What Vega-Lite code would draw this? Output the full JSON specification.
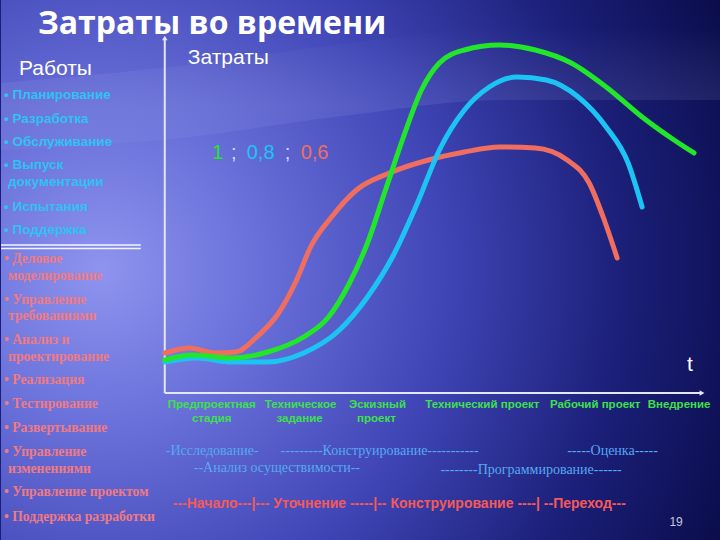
{
  "$schema": "https://vega.github.io/schema/vega-lite/v6.json",
  "width": 720,
  "height": 540,
  "padding": 0,
  "autosize": {"type": "fit", "contains": "padding"},
  "background": "#1a1e78",
  "view": {
    "stroke": null,
    "fill": {
      "gradient": "radial",
      "x1": 0.14, "y1": 0.5, "r1": 0,
      "x2": 0.14, "y2": 0.5, "r2": 0.97,
      "stops": [
        {"offset": 0, "color": "#8e94ee"},
        {"offset": 0.22, "color": "#6a71da"},
        {"offset": 0.5, "color": "#3e44b4"},
        {"offset": 0.75, "color": "#1b1f78"},
        {"offset": 1, "color": "#080a44"}
      ]
    }
  },
  "config": {"view": {"stroke": null}},
  "datasets": {
    "curves": [
      {"series": "0,6", "t": 0, "c": 40}, {"series": "0,6", "t": 25, "c": 45}, {"series": "0,6", "t": 50, "c": 40}, {"series": "0,6", "t": 71, "c": 41}, {"series": "0,6", "t": 92, "c": 56}, {"series": "0,6", "t": 114, "c": 80}, {"series": "0,6", "t": 132, "c": 113}, {"series": "0,6", "t": 146, "c": 146}, {"series": "0,6", "t": 167, "c": 176}, {"series": "0,6", "t": 192, "c": 203}, {"series": "0,6", "t": 225, "c": 220}, {"series": "0,6", "t": 264, "c": 233}, {"series": "0,6", "t": 300, "c": 241}, {"series": "0,6", "t": 335, "c": 246}, {"series": "0,6", "t": 371, "c": 245}, {"series": "0,6", "t": 403, "c": 233}, {"series": "0,6", "t": 425, "c": 210}, {"series": "0,6", "t": 439, "c": 176}, {"series": "0,6", "t": 453, "c": 135},
      {"series": "0,8", "t": 0, "c": 31}, {"series": "0,8", "t": 32, "c": 35}, {"series": "0,8", "t": 67, "c": 31}, {"series": "0,8", "t": 103, "c": 31}, {"series": "0,8", "t": 139, "c": 40}, {"series": "0,8", "t": 175, "c": 63}, {"series": "0,8", "t": 203, "c": 96}, {"series": "0,8", "t": 228, "c": 136}, {"series": "0,8", "t": 253, "c": 190}, {"series": "0,8", "t": 275, "c": 243}, {"series": "0,8", "t": 300, "c": 283}, {"series": "0,8", "t": 325, "c": 306}, {"series": "0,8", "t": 353, "c": 316}, {"series": "0,8", "t": 382, "c": 313}, {"series": "0,8", "t": 414, "c": 296}, {"series": "0,8", "t": 442, "c": 266}, {"series": "0,8", "t": 464, "c": 230}, {"series": "0,8", "t": 478, "c": 186},
      {"series": "1", "t": 0, "c": 33}, {"series": "1", "t": 28, "c": 38}, {"series": "1", "t": 67, "c": 35}, {"series": "1", "t": 103, "c": 41}, {"series": "1", "t": 139, "c": 56}, {"series": "1", "t": 164, "c": 76}, {"series": "1", "t": 185, "c": 110}, {"series": "1", "t": 203, "c": 150}, {"series": "1", "t": 221, "c": 203}, {"series": "1", "t": 239, "c": 256}, {"series": "1", "t": 257, "c": 303}, {"series": "1", "t": 275, "c": 330}, {"series": "1", "t": 300, "c": 343}, {"series": "1", "t": 335, "c": 348}, {"series": "1", "t": 371, "c": 343}, {"series": "1", "t": 407, "c": 330}, {"series": "1", "t": 442, "c": 306}, {"series": "1", "t": 478, "c": 276}, {"series": "1", "t": 510, "c": 253}, {"series": "1", "t": 530, "c": 240}
    ]
  },
  "encoding": {
    "x": {"field": "t", "type": "quantitative", "scale": {"domain": [-164, 556], "nice": false, "zero": false}, "axis": null},
    "y": {"field": "c", "type": "quantitative", "scale": {"domain": [-147, 393], "nice": false, "zero": false}, "axis": null}
  },
  "layer": [
    {
      "data": {"values": [
        {"t": -164, "c": 243, "c2": 310},
        {"t": -4, "c": 253, "c2": 325},
        {"t": 186, "c": 278, "c2": 350},
        {"t": 336, "c": 293, "c2": 365},
        {"t": 556, "c": 293, "c2": 362}
      ]},
      "mark": {
        "type": "area",
        "interpolate": "monotone",
        "fill": {
          "gradient": "linear", "x1": 0, "y1": 0, "x2": 0, "y2": 1,
          "stops": [
            {"offset": 0, "color": "rgba(255,255,255,0)"},
            {"offset": 0.65, "color": "rgba(200,205,255,0.10)"},
            {"offset": 1, "color": "rgba(200,205,255,0.05)"}
          ]
        }
      },
      "encoding": {"y2": {"field": "c2"}}
    },
    {
      "data": {"values": [{"t": 0, "c": 0, "t2": 0, "c2": 355}, {"t": 0, "c": 0, "t2": 536, "c2": 0}]},
      "mark": {"type": "rule", "color": "#e4e4f2", "strokeWidth": 2},
      "encoding": {"x2": {"field": "t2"}, "y2": {"field": "c2"}}
    },
    {
      "data": {"values": [{"t": 0, "c": 355}]},
      "mark": {"type": "point", "shape": "triangle-up", "filled": true, "color": "#e4e4f2", "size": 30, "opacity": 1}
    },
    {
      "data": {"values": [{"t": 538, "c": 0}]},
      "mark": {"type": "point", "shape": "triangle-right", "filled": true, "color": "#e4e4f2", "size": 30, "opacity": 1}
    },
    {
      "data": {"values": [{"t": -164, "c": 148, "t2": -24, "c2": 148}, {"t": -164, "c": 144.5, "t2": -24, "c2": 144.5}]},
      "mark": {"type": "rule", "color": "#f4f4ff", "strokeWidth": 1.5},
      "encoding": {"x2": {"field": "t2"}, "y2": {"field": "c2"}}
    },
    {
      "data": {"name": "curves"},
      "mark": {"type": "line", "strokeWidth": 5, "interpolate": "monotone", "strokeCap": "round"},
      "encoding": {
        "color": {"field": "series", "type": "nominal", "scale": {"domain": ["1", "0,8", "0,6"], "range": ["#22e62a", "#1cc4f4", "#ef6e5f"]}, "legend": null}
      }
    },
    {
      "data": {"values": [{"t": 53, "c": 240, "series": "1"}, {"t": 96, "c": 240, "series": "0,8"}, {"t": 150, "c": 240, "series": "0,6"}]},
      "mark": {"type": "text", "font": "Liberation Sans", "fontSize": 20, "baseline": "middle", "align": "center"},
      "encoding": {
        "text": {"field": "series"},
        "color": {"field": "series", "type": "nominal", "legend": null}
      }
    },
    {
      "data": {"values": [{"t": 69, "c": 240, "label": ";"}, {"t": 123, "c": 240, "label": ";"}]},
      "mark": {"type": "text", "font": "Liberation Sans", "fontSize": 20, "baseline": "middle", "align": "center", "color": "#d8d8ea"},
      "encoding": {"text": {"field": "label"}}
    },
    {
      "data": {"values": [{"t": -127, "c": 359, "label": "Затраты во времени"}]},
      "mark": {"type": "text", "font": "Open Sans", "fontWeight": "bold", "fontSize": 32, "baseline": "alphabetic", "align": "left", "color": "#ffffff"},
      "encoding": {"text": {"field": "label"}}
    },
    {
      "data": {"values": [{"t": -146, "c": 318, "label": "Работы"}, {"t": 23, "c": 329, "label": "Затраты"}]},
      "mark": {"type": "text", "font": "Liberation Sans", "fontSize": 21, "baseline": "alphabetic", "align": "left", "color": "#ffffff"},
      "encoding": {"text": {"field": "label"}}
    },
    {
      "data": {"values": [{"t": 526, "c": 28, "label": "t"}]},
      "mark": {"type": "text", "font": "Liberation Sans", "fontSize": 21, "baseline": "middle", "align": "center", "color": "#ffffff"},
      "encoding": {"text": {"field": "label"}}
    },
    {
      "data": {"values": [
        {"t": -161, "c": 298, "label": "• Планирование"},
        {"t": -161, "c": 274, "label": "• Разработка"},
        {"t": -161, "c": 251, "label": "• Обслуживание"},
        {"t": -161, "c": 228, "label": "• Выпуск"},
        {"t": -157, "c": 211, "label": "документации"},
        {"t": -161, "c": 186, "label": "• Испытания"},
        {"t": -161, "c": 163, "label": "• Поддержка"}
      ]},
      "mark": {"type": "text", "font": "Liberation Sans", "fontWeight": "bold", "fontSize": 13.5, "baseline": "middle", "align": "left", "color": "#2fc2f2"},
      "encoding": {"text": {"field": "label"}}
    },
    {
      "data": {"values": [
        {"t": -161, "c": 134, "label": "• Деловое"},
        {"t": -157, "c": 117, "label": "моделирование"},
        {"t": -161, "c": 93, "label": "• Управление"},
        {"t": -157, "c": 77, "label": "требованиями"},
        {"t": -161, "c": 53, "label": "• Анализ и"},
        {"t": -157, "c": 36, "label": "проектирование"},
        {"t": -161, "c": 13, "label": "• Реализация"},
        {"t": -161, "c": -11, "label": "• Тестирование"},
        {"t": -161, "c": -35, "label": "• Развертывание"},
        {"t": -161, "c": -59, "label": "• Управление"},
        {"t": -157, "c": -76, "label": "изменениями"},
        {"t": -161, "c": -99, "label": "• Управление проектом"},
        {"t": -161, "c": -124, "label": "• Поддержка разработки"}
      ]},
      "mark": {"type": "text", "font": "Liberation Serif", "fontWeight": "bold", "fontSize": 13.7, "baseline": "middle", "align": "left", "color": "#f07a82"},
      "encoding": {"text": {"field": "label"}}
    },
    {
      "data": {"values": [
        {"t": 47, "c": -12, "label": "Предпроектная"},
        {"t": 47, "c": -26, "label": "стадия"},
        {"t": 136, "c": -12, "label": "Техническое"},
        {"t": 135, "c": -26, "label": "задание"},
        {"t": 213, "c": -12, "label": "Эскизный"},
        {"t": 212, "c": -26, "label": "проект"},
        {"t": 318, "c": -12, "label": "Технический проект"},
        {"t": 431, "c": -12, "label": "Рабочий проект"},
        {"t": 515, "c": -12, "label": "Внедрение"}
      ]},
      "mark": {"type": "text", "font": "Liberation Sans", "fontWeight": "bold", "fontSize": 11.5, "baseline": "middle", "align": "center", "color": "#3ee04e"},
      "encoding": {"text": {"field": "label"}}
    },
    {
      "data": {"values": [
        {"t": 1, "c": -58, "label": "-Исследование-"},
        {"t": 116, "c": -58, "label": "---------Конструирование-----------"},
        {"t": 403, "c": -58, "label": "-----Оценка-----"},
        {"t": 29, "c": -75, "label": "--Анализ осуществимости--"},
        {"t": 276, "c": -77, "label": "--------Программирование------"}
      ]},
      "mark": {"type": "text", "font": "Liberation Serif", "fontSize": 14, "baseline": "middle", "align": "left", "color": "#55a9f2"},
      "encoding": {"text": {"field": "label"}}
    },
    {
      "data": {"values": [{"t": 8, "c": -111, "label": "---Начало---|--- Уточнение -----|-- Конструирование ----| --Переход---"}]},
      "mark": {"type": "text", "font": "Liberation Sans", "fontWeight": "bold", "fontSize": 14, "baseline": "middle", "align": "left", "color": "#f45a5a"},
      "encoding": {"text": {"field": "label"}}
    },
    {
      "data": {"values": [{"t": 512, "c": -129, "label": "19"}]},
      "mark": {"type": "text", "font": "Liberation Sans", "fontSize": 12, "baseline": "middle", "align": "center", "color": "#c8c8dc"},
      "encoding": {"text": {"field": "label"}}
    }
  ]
}
